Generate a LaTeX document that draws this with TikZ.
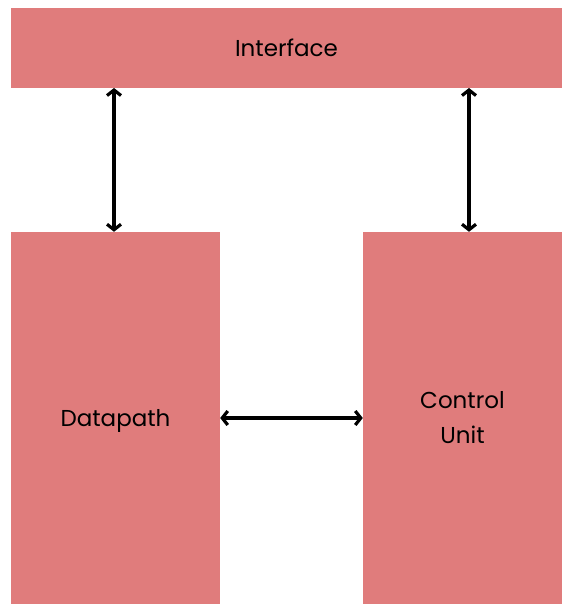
\documentclass[tikz,border=0pt]{standalone}
\usepackage{fontspec}
\setmainfont{Poppins}
\usetikzlibrary{arrows.meta}
\definecolor{blockred}{RGB}{224,124,124}
\begin{document}
\begin{tikzpicture}[x=1pt,y=-1pt,
  block/.style={fill=blockred,draw=none,inner sep=0pt,align=center,
    font=\fontsize{23}{35}\selectfont},
  link/.style={line width=3.2pt,{Straight Barb[length=5.5pt,width=14pt]}-{Straight Barb[length=5.5pt,width=14pt]}}]
  \useasboundingbox (0,0) rectangle (562,604);
  \node[block,minimum width=551pt,minimum height=80pt] (iface) at (286.5,48) {Interface};
  \node[block,minimum width=209pt,minimum height=372pt,text depth=0pt] (dpath) at (115.5,418) {Datapath};
  \node[block,minimum width=199pt,minimum height=372pt] (cunit) at (462.5,418) {Control\\Unit};
  \coordinate (ifL) at (114,88);
  \coordinate (ifR) at (469,88);
  \draw[link] (ifL) -- (ifL |- dpath.north);
  \draw[link] (ifR) -- (ifR |- cunit.north);
  \draw[link] (dpath.east) -- (cunit.west);
\end{tikzpicture}
\end{document}
